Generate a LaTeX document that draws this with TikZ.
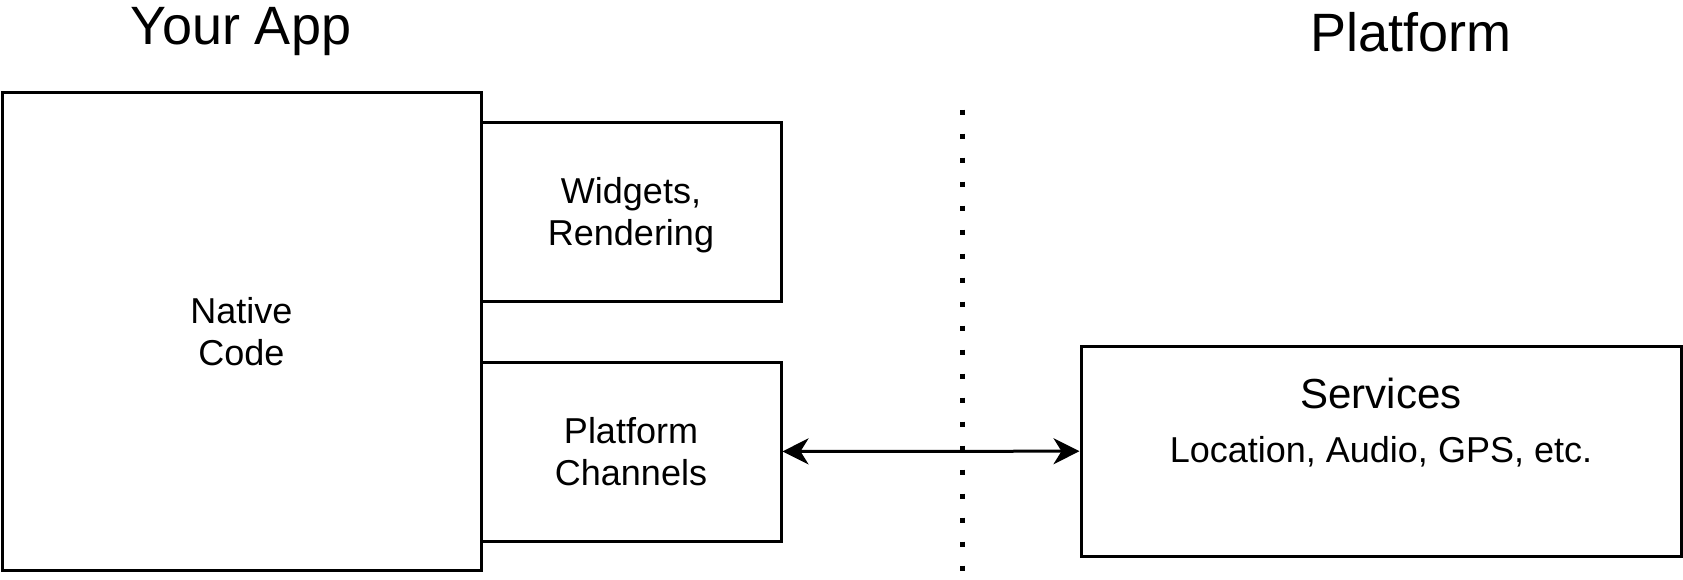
\documentclass[tikz,border=0pt]{standalone}
\usepackage{fontspec}
\setmainfont{Liberation Sans}
\usetikzlibrary{arrows.meta}

\begin{document}
\begin{tikzpicture}[
  x=0.5pt, y=-0.5pt,
  box/.style={draw, line width=1.5pt, inner sep=0pt, align=center, text depth=0pt,
    font=\fontsize{18}{21}\selectfont},
  title/.style={font=\fontsize{27}{31}\selectfont},
  link/.style={line width=1.5pt, {Stealth[length=13pt,width=13pt,inset=4pt]}-{Stealth[length=13pt,width=13pt,inset=4pt]}},
  divider/.style={line width=2.5pt, dash pattern=on 2.5pt off 9.5pt}
]
  \useasboundingbox (0,0) rectangle (1683,579);

  % Headings
  \node[title] (app) at (241,32) {Your App};
  \node[title] (plat) at (1411,32) {Platform};

  % Your app side
  \node[box, minimum width=239.5pt, minimum height=239pt] (native) at (241.5,331) {Native\\Code};
  \node[box, minimum width=150pt, minimum height=89.5pt] (widgets) at (631,211.5) {Widgets,\\Rendering};
  \node[box, minimum width=150pt, minimum height=89.5pt] (channels) at (631,451.5) {Platform\\Channels};

  % Platform side
  \node[box, minimum width=300pt, minimum height=105pt] (services) at (1381,451) {};
  \node[font=\fontsize{21}{25}\selectfont] (srvtitle) at (1381,393) {Services};
  \node[font=\fontsize{18}{21}\selectfont] (srvlist) at (1381,452) {Location, Audio, GPS, etc.};

  % Boundary
  \coordinate (dtop) at (962,109.5);
  \coordinate (dbot) at (962,570.5);
  \draw[divider] (dtop) -- (dbot);

  \draw[link] (channels) -- (services);
\end{tikzpicture}
\end{document}
